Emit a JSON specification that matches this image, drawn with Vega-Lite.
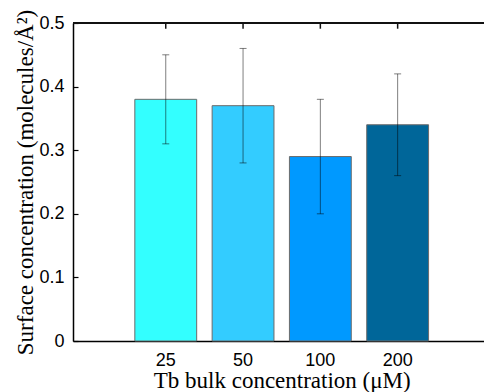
{
  "$schema": "https://vega.github.io/schema/vega-lite/v6.json",
  "width": 411,
  "height": 318,
  "autosize": "none",
  "padding": {"left": 73, "top": 23, "right": 0, "bottom": 51},
  "background": "white",
  "config": {
    "view": {"stroke": null},
    "axis": {
      "grid": false,
      "domainColor": "#000",
      "domainWidth": 1.5,
      "tickColor": "#000",
      "tickWidth": 1.2,
      "tickSize": -5,
      "zindex": 1,
      "labelFont": "Liberation Sans",
      "labelFontSize": 18,
      "labelColor": "#000",
      "titleFont": "Liberation Serif",
      "titleFontSize": 23,
      "titleFontWeight": "normal",
      "titleColor": "#000"
    }
  },
  "data": {
    "values": [
      {"conc": "25", "mean": 0.38, "lo": 0.31, "hi": 0.45},
      {"conc": "50", "mean": 0.37, "lo": 0.28, "hi": 0.46},
      {"conc": "100", "mean": 0.29, "lo": 0.20, "hi": 0.38},
      {"conc": "200", "mean": 0.34, "lo": 0.26, "hi": 0.42}
    ]
  },
  "layer": [
    {
      "mark": {"type": "bar", "stroke": "#6b6b6b", "strokeWidth": 1},
      "encoding": {
        "x": {
          "field": "conc", "type": "ordinal", "sort": null,
          "scale": {"range": [0, 417.4], "paddingInner": 0.2, "paddingOuter": 0.8},
          "axis": {"orient": "bottom", "labelAngle": 0, "labelPadding": 15, "title": "Tb bulk concentration (μM)", "titleBaseline": "alphabetic", "titleY": 46}
        },
        "y": {
          "field": "mean", "type": "quantitative",
          "scale": {"domain": [0, 0.5], "nice": false},
          "axis": {"values": [0, 0.1, 0.2, 0.3, 0.4, 0.5], "format": "~g", "labelPadding": 14, "title": "Surface concentration (molecules/Å²)", "titleBaseline": "middle", "titleX": -48}
        },
        "color": {
          "field": "conc", "type": "ordinal", "sort": null,
          "scale": {"range": ["#33FFFF", "#33CCFF", "#0099FF", "#006699"]},
          "legend": null
        }
      }
    },
    {
      "mark": {"type": "rule", "color": "#000", "opacity": 0.5, "strokeWidth": 1},
      "encoding": {
        "x": {"field": "conc", "type": "ordinal", "sort": null},
        "y": {"field": "lo", "type": "quantitative"},
        "y2": {"field": "hi"}
      }
    },
    {
      "mark": {"type": "tick", "color": "#000", "opacity": 0.5, "size": 7, "thickness": 1},
      "encoding": {
        "x": {"field": "conc", "type": "ordinal", "sort": null},
        "y": {"field": "lo", "type": "quantitative"}
      }
    },
    {
      "mark": {"type": "tick", "color": "#000", "opacity": 0.5, "size": 7, "thickness": 1},
      "encoding": {
        "x": {"field": "conc", "type": "ordinal", "sort": null},
        "y": {"field": "hi", "type": "quantitative"}
      }
    },
    {
      "mark": {"type": "rule", "color": "#111111", "strokeWidth": 2},
      "encoding": {
        "y": {"datum": 0.5}
      }
    },
    {
      "mark": {"type": "rule", "color": "#111111", "strokeWidth": 1.5},
      "encoding": {
        "x": {"field": "conc", "type": "ordinal", "sort": null},
        "y": {"datum": 0.5},
        "y2": {"datum": 0.491}
      }
    }
  ]
}
